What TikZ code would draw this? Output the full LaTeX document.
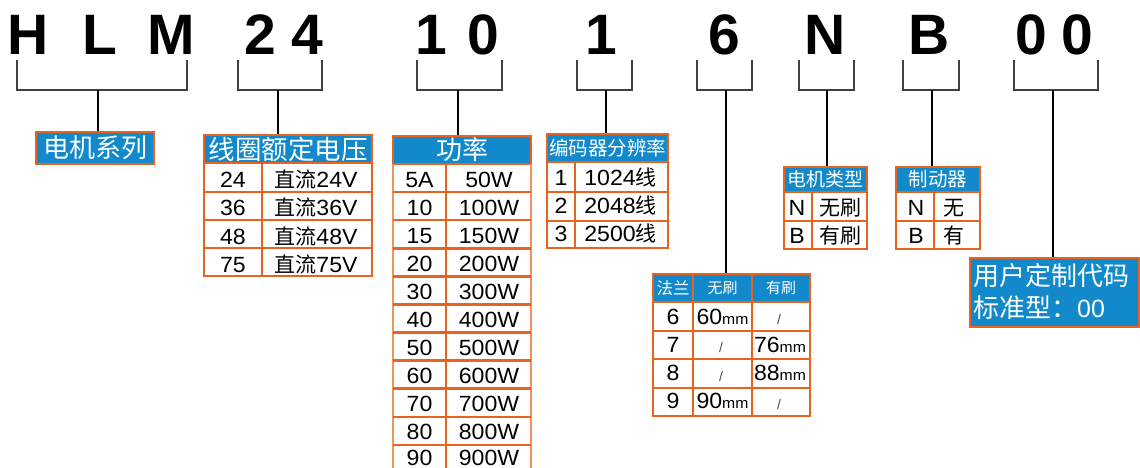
\documentclass[tikz,border=0pt]{standalone}
\usepackage{fontspec}
\setmainfont{Liberation Sans}
\newfontfamily\cjk{Noto Sans CJK SC}
\newfontfamily\bodyf[FakeStretch=1.05]{Liberation Sans}
\newfontfamily\topf{Liberation Sans}
\definecolor{hblue}{HTML}{1189CB}
\definecolor{tor}{HTML}{E9621F}
\definecolor{bgray}{HTML}{404040}
\newcommand\cj[1]{{\cjk\fontsize{21}{21}\selectfont #1}}
\newcommand\mmu{{\fontsize{15}{15}\selectfont mm}}
\newcommand\sls{{\fontsize{14}{14}\selectfont\color{black!70}/}}
\newcommand\bracketto[5]{%
  \coordinate (#1l) at (#2,60); \coordinate (#1r) at (#3,60); \coordinate (#1m) at (#4,90);
  \draw[brk] (#1l) |- (#1m) -| (#1r);
  \draw[stem] (#1m) -- (#1m |- #5.north);
}
\tikzset{
  toplet/.style={font=\topf\fontsize{57}{57}\selectfont\bfseries, anchor=base, inner sep=0pt},
  brk/.style={draw=bgray, line width=2pt},
  stem/.style={draw=black, line width=2.3pt},
  hdr/.style={draw=tor, fill=hblue, line width=2.4pt, inner sep=0pt, text=white, anchor=center},
  grd/.style={draw=tor, line width=2.6pt},
  cell/.style={inner sep=0pt, anchor=base, font=\bodyf\fontsize{22}{22}\selectfont},
  htxt/.style={inner sep=0pt, text=white, anchor=center},
}
\begin{document}
\begin{tikzpicture}[x=1pt,y=-1pt]
\useasboundingbox (0,0) rectangle (1140,468);
\clip (0,0) rectangle (1140,468);
% top code letters
\foreach \n/\c/\x in {t1/H/28.5, t2/L/100, t3/M/171, t4/2/260, t5/4/307, t6/1/431, t7/0/483, t8/1/601, t9/6/724, t10/N/825, t11/B/929.5, t12/0/1031, t13/0/1077.5}
  \node[toplet] (\n) at (\x,54.5) {\c};
% header boxes
\node[hdr, minimum width=118pt, minimum height=32pt] (h1) at (95,148) {\cjk\fontsize{26}{26}\selectfont 电机系列};
\node[hdr, minimum width=168pt, minimum height=28pt] (h2) at (288,149) {\cjk\fontsize{26.5}{26.5}\selectfont 线圈额定电压};
\node[hdr, minimum width=138pt, minimum height=28pt] (h3) at (462,150) {\cjk\fontsize{26}{26}\selectfont 功率};
\node[hdr, minimum width=121pt, minimum height=28pt] (h4) at (607.5,148) {\cjk\fontsize{19.5}{19.5}\selectfont 编码器分辨率};
\node[hdr, minimum width=157pt, minimum height=28pt] (hf) at (731.5,288) {};
\node[hdr, minimum width=83pt, minimum height=25pt] (hn) at (825.5,179.5) {\cjk\fontsize{19}{19}\selectfont 电机类型};
\node[hdr, minimum width=84pt, minimum height=25pt] (hb) at (938,179.5) {\cjk\fontsize{19.5}{19.5}\selectfont 制动器};
\node[hdr, minimum width=169pt, minimum height=69pt] (hc) at (1054.5,292.5) {};
% brackets and stems
\bracketto{b1}{17}{187}{98}{h1}
\bracketto{b2}{238}{322}{278}{h2}
\bracketto{b3}{417}{502}{458}{h3}
\bracketto{b4}{577}{632}{606}{h4}
\bracketto{b5}{697}{752}{726}{hf}
\bracketto{b6}{799}{854}{827}{hn}
\bracketto{b7}{903}{959}{932}{hb}
\bracketto{b8}{1014}{1098}{1053}{hc}
% table 2: coil voltage
\draw[grd] (204,163) rectangle (372,276);
\foreach \y in {192,220,248} \draw[grd] (204,\y) -- (372,\y);
\draw[grd] (262,163) -- (262,276);
\foreach \p/\q [count=\i] in {24/24,36/36,48/48,75/75} {
  \node[cell] (c2a\i) at (233,{163+28.25*(\i-1)+24.5}) {\p};
  \node[cell] (c2b\i) at (316,{163+28.25*(\i-1)+24.5}) {\cj{直流}\q V};
}
% table 3: power
\draw[grd, draw=tor!70] (393,164) -- (393,480);
\draw[grd, draw=tor!70] (531,164) -- (531,480);
\draw[grd] (446,164) -- (446,480);
\foreach \i in {1,...,11} \draw[grd] (393,{164+28.09*\i}) -- (531,{164+28.09*\i});
\foreach \p/\q [count=\i] in {5A/50W,10/100W,15/150W,20/200W,30/300W,40/400W,50/500W,60/600W,70/700W,80/800W} {
  \node[cell] (c3a\i) at (419.5,{164+28.09*(\i-1)+23}) {\p};
  \node[cell] (c3b\i) at (489,{164+28.09*(\i-1)+23}) {\q};
}
\node[cell] (c3a11) at (419.5,465.5) {90};
\node[cell] (c3b11) at (489,465.5) {900W};
% table 4: encoder
\draw[grd] (547,162) rectangle (668,248);
\foreach \y in {192,221} \draw[grd] (547,\y) -- (668,\y);
\draw[grd] (575,162) -- (575,248);
\foreach \p/\q/\y [count=\i] in {1/1024/185,2/2048/213.5,3/2500/241.5} {
  \node[cell] (c4a\i) at (561,\y) {\p};
  \node[cell] (c4b\i) at (620.5,\y) {\q\cj{线}};
}
% table 6: flange
\draw[grd] (653,302) rectangle (810,416);
\foreach \y in {331,359,388} \draw[grd] (653,\y) -- (810,\y);
\foreach \x in {693,752} \draw[grd] (\x,274) -- (\x,416);
\node[htxt] (hf1) at (673,288) {\cjk\fontsize{16.5}{16.5}\selectfont 法兰};
\node[htxt] (hf2) at (722.5,288) {\cjk\fontsize{15}{15}\selectfont 无刷};
\node[htxt] (hf3) at (781,288) {\cjk\fontsize{15}{15}\selectfont 有刷};
\node[cell] (c6a1) at (673,324) {6};
\node[cell] (c6b1) at (722.5,324) {60\mmu};
\node[inner sep=0pt] (c6c1) at (779,319) {\sls};
\node[cell] (c6a2) at (673,352.5) {7};
\node[inner sep=0pt] (c6b2) at (721,347.5) {\sls};
\node[cell] (c6c2) at (780,352.5) {76\mmu};
\node[cell] (c6a3) at (673,380.5) {8};
\node[inner sep=0pt] (c6b3) at (721,376) {\sls};
\node[cell] (c6c3) at (780,380.5) {88\mmu};
\node[cell] (c6a4) at (673,408.5) {9};
\node[cell] (c6b4) at (722.5,408.5) {90\mmu};
\node[inner sep=0pt] (c6c4) at (779,404) {\sls};
% table N: motor type
\draw[grd] (784,192) rectangle (867,249);
\draw[grd] (784,221) -- (867,221);
\draw[grd] (812,192) -- (812,249);
\node[cell] (cna1) at (797,215) {N};
\node[cell] (cnb1) at (840,215) {\cj{无刷}};
\node[cell] (cna2) at (797,243.5) {B};
\node[cell] (cnb2) at (840,243.5) {\cj{有刷}};
% table B: brake
\draw[grd] (896,192) rectangle (980,249);
\draw[grd] (896,221) -- (980,221);
\draw[grd] (934,192) -- (934,249);
\node[cell] (cba1) at (916,215) {N};
\node[cell] (cbb1) at (954,215) {\cj{无}};
\node[cell] (cba2) at (916,243.5) {B};
\node[cell] (cbb2) at (954,243.5) {\cj{有}};
% custom code box text
\node[inner sep=0pt, anchor=base west, text=white] (cu1) at (973,285) {\cjk\fontsize{26}{26}\selectfont 用户定制代码};
\node[inner sep=0pt, anchor=base west, text=white] (cu2) at (973,317) {\cjk\fontsize{26}{26}\selectfont 标准型：{\topf\fontsize{25}{25}\selectfont 00}};
\end{tikzpicture}
\end{document}
